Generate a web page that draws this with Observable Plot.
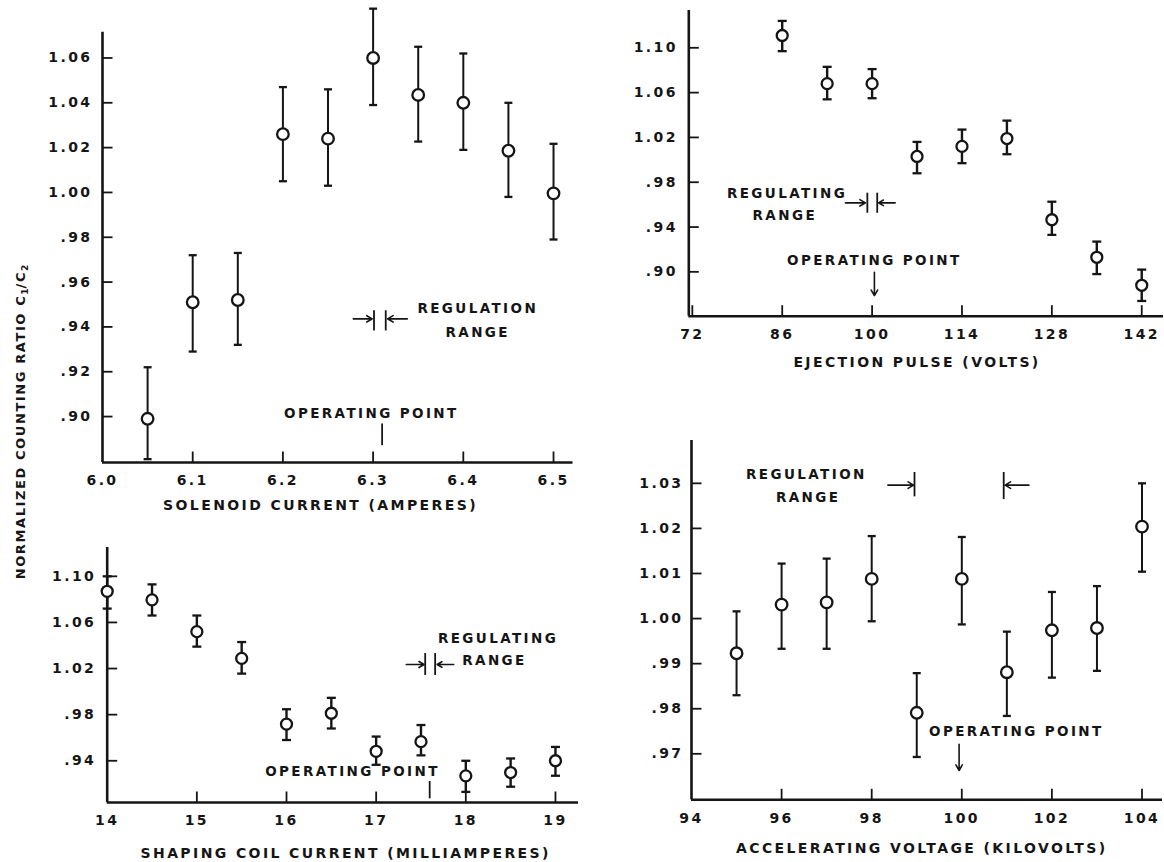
<!DOCTYPE html>
<html>
<head>
<meta charset="utf-8">
<script src="https://cdn.jsdelivr.net/npm/d3@7"></script>
<script src="https://cdn.jsdelivr.net/npm/@observablehq/plot@0.6"></script>
<style>
  html, body { margin: 0; padding: 0; background: #fff; }
  #chart { position: relative; width: 1164px; height: 862px; overflow: hidden; background: #fff; }
  #chart svg { position: absolute; left: 0; top: 0; }
  #ytitle {
    position: absolute; left: 21px; top: 422px;
    transform: translate(-50%, -50%) rotate(-90deg);
    white-space: nowrap; font: bold 13px "DejaVu Sans", sans-serif;
    letter-spacing: 1.6px; color: #151515;
  }
  #ytitle sub { font-size: 9px; vertical-align: -3px; letter-spacing: 0; }
</style>
</head>
<body>
<div id="chart">
  <div id="ytitle">NORMALIZED COUNTING RATIO C<sub>1</sub>/C<sub>2</sub></div>
</div>
<script>
// ---------------- DATA ----------------
// Panel A: solenoid current
const solenoidCurrent = [6.05, 6.10, 6.15, 6.20, 6.25, 6.30, 6.35, 6.40, 6.45, 6.50];
const solenoidRatio   = [0.899, 0.951, 0.952, 1.026, 1.024, 1.060, 1.0435, 1.040, 1.0186, 0.9996];
const solenoidLow     = [0.881, 0.929, 0.932, 1.005, 1.003, 1.039, 1.0227, 1.019, 0.998, 0.979];
const solenoidHigh    = [0.922, 0.972, 0.973, 1.047, 1.046, 1.082, 1.065, 1.062, 1.040, 1.0217];
const solenoidXTicks = [6.0, 6.1, 6.2, 6.3, 6.4, 6.5];
const solenoidXTickLabels = ["6.0", "6.1", "6.2", "6.3", "6.4", "6.5"];
const solenoidYTicks = [0.90, 0.92, 0.94, 0.96, 0.98, 1.00, 1.02, 1.04, 1.06];
const solenoidYTickLabels = [".90", ".92", ".94", ".96", ".98", "1.00", "1.02", "1.04", "1.06"];
const solenoidTitle = "SOLENOID CURRENT (AMPERES)";
const solenoidNotes = [
  {x: 6.416, y: 0.948, text: "REGULATION"},
  {x: 6.416, y: 0.9376, text: "RANGE"},
  {x: 6.298, y: 0.9012, text: "OPERATING POINT"}
];
const solenoidRangeLines = [{x: 6.301, y1: 0.9382, y2: 0.9472}, {x: 6.314, y1: 0.9382, y2: 0.9472}];
const solenoidRangeArrows = [{x1: 6.278, x2: 6.299, y: 0.9436}, {x1: 6.338, x2: 6.316, y: 0.9436}];
const solenoidOperatingLines = [{x: 6.310, y1: 0.8870, y2: 0.8967}];
const solenoidOperatingArrows = [];

// Panel B: ejection pulse
const ejectionPulse = [86, 93, 100, 107, 114, 121, 128, 135, 142];
const ejectionRatio = [1.111, 1.068, 1.068, 1.003, 1.012, 1.019, 0.9465, 0.913, 0.888];
const ejectionLow   = [1.097, 1.054, 1.055, 0.988, 0.997, 1.005, 0.933, 0.898, 0.874];
const ejectionHigh  = [1.124, 1.083, 1.081, 1.016, 1.027, 1.035, 0.9626, 0.927, 0.902];
const ejectionXTicks = [72, 86, 100, 114, 128, 142];
const ejectionXTickLabels = ["72", "86", "100", "114", "128", "142"];
const ejectionYTicks = [0.90, 0.94, 0.98, 1.02, 1.06, 1.10];
const ejectionYTickLabels = [".90", ".94", ".98", "1.02", "1.06", "1.10"];
const ejectionTitle = "EJECTION PULSE (VOLTS)";
const ejectionNotes = [
  {x: 86.75, y: 0.9696, text: "REGULATING"},
  {x: 86.4, y: 0.9503, text: "RANGE"},
  {x: 100.35, y: 0.9101, text: "OPERATING POINT"}
];
const ejectionRangeLines = [{x: 99.26, y1: 0.9523, y2: 0.9702}, {x: 100.8, y1: 0.9523, y2: 0.9702}];
const ejectionRangeArrows = [{x1: 95.85, x2: 98.96, y: 0.9616}, {x1: 103.6, x2: 101.0, y: 0.9616}];
const ejectionOperatingLines = [];
const ejectionOperatingArrows = [{x: 100.36, y1: 0.8997, y2: 0.8788}];

// Panel C: shaping coil current
const shapingCurrent = [14, 14.5, 15, 15.5, 16, 16.5, 17, 17.5, 18, 18.5, 19];
const shapingRatio   = [1.087, 1.0796, 1.052, 1.0288, 0.9718, 0.9812, 0.9482, 0.9566, 0.9269, 0.9298, 0.940];
const shapingLow     = [1.072, 1.066, 1.039, 1.0156, 0.958, 0.968, 0.9365, 0.9447, 0.913, 0.9175, 0.927];
const shapingHigh    = [1.100, 1.093, 1.066, 1.043, 0.9847, 0.9946, 0.961, 0.971, 0.940, 0.942, 0.952];
const shapingXTicks = [14, 15, 16, 17, 18, 19];
const shapingXTickLabels = ["14", "15", "16", "17", "18", "19"];
const shapingYTicks = [0.94, 0.98, 1.02, 1.06, 1.10];
const shapingYTickLabels = [".94", ".98", "1.02", "1.06", "1.10"];
const shapingTitle = "SHAPING COIL CURRENT (MILLIAMPERES)";
const shapingNotes = [
  {x: 18.36, y: 1.0457, text: "REGULATING"},
  {x: 18.32, y: 1.027, text: "RANGE"},
  {x: 16.736, y: 0.9307, text: "OPERATING POINT"}
];
const shapingRangeLines = [{x: 17.547, y1: 1.014, y2: 1.033}, {x: 17.658, y1: 1.014, y2: 1.033}];
const shapingRangeArrows = [{x1: 17.336, x2: 17.535, y: 1.0235}, {x1: 17.865, x2: 17.68, y: 1.0235}];
const shapingOperatingLines = [{x: 17.597, y1: 0.907, y2: 0.922}];
const shapingOperatingArrows = [];

// Panel D: accelerating voltage
const acceleratingVoltage = [95, 96, 97, 98, 99, 100, 101, 102, 103, 104];
const acceleratingRatio = [0.9923, 1.0031, 1.0036, 1.0088, 0.9791, 1.0088, 0.9881, 0.9974, 0.9979, 1.0204];
const acceleratingLow   = [0.983, 0.9933, 0.9933, 0.9994, 0.9693, 0.9987, 0.9784, 0.9869, 0.9884, 1.0104];
const acceleratingHigh  = [1.0016, 1.0122, 1.0133, 1.0183, 0.9879, 1.0181, 0.9971, 1.0059, 1.0072, 1.030];
const acceleratingXTicks = [94, 96, 98, 100, 102, 104];
const acceleratingXTickLabels = ["94", "96", "98", "100", "102", "104"];
const acceleratingYTicks = [0.97, 0.98, 0.99, 1.00, 1.01, 1.02, 1.03];
const acceleratingYTickLabels = [".97", ".98", ".99", "1.00", "1.01", "1.02", "1.03"];
const acceleratingTitle = "ACCELERATING VOLTAGE (KILOVOLTS)";
const acceleratingNotes = [
  {x: 96.55, y: 1.032, text: "REGULATION"},
  {x: 96.59, y: 1.0268, text: "RANGE"},
  {x: 101.21, y: 0.975, text: "OPERATING POINT"}
];
const acceleratingRangeLines = [{x: 98.95, y1: 1.027, y2: 1.0324}, {x: 100.93, y1: 1.0264, y2: 1.0324}];
const acceleratingRangeArrows = [{x1: 98.36, x2: 98.93, y: 1.0296}, {x1: 101.49, x2: 100.96, y: 1.0296}];
const acceleratingOperatingLines = [];
const acceleratingOperatingArrows = [{x: 99.94, y1: 0.9721, y2: 0.9663}];

// ---------------- LAYOUT / STYLE ----------------
const W = 1164, H = 862;
const INK = "#151515";
const FONT = "'DejaVu Sans', sans-serif";

const panels = [
  {
    frame: {left: 102, right: 572.5, top: 31.7, bottom: 462},
    xDomain: [6.0, 6.5216], yDomain: [0.8795, 1.0715],
    x: solenoidCurrent, y: solenoidRatio, lo: solenoidLow, hi: solenoidHigh,
    xTicks: solenoidXTicks, xTickLabels: solenoidXTickLabels,
    yTicks: solenoidYTicks, yTickLabels: solenoidYTickLabels,
    title: solenoidTitle, titleX: 6.2417, titleDy: 43,
    notes: solenoidNotes, rangeLines: solenoidRangeLines, rangeArrows: solenoidRangeArrows,
    opLines: solenoidOperatingLines, opArrows: solenoidOperatingArrows,
    yLabelDx: -10, r: 5.8, cap: 4, barWidth: 2
  },
  {
    frame: {left: 688.3, right: 1163, top: 10, bottom: 315.7},
    xDomain: [71.45, 145.39], yDomain: [0.8604, 1.1333],
    x: ejectionPulse, y: ejectionRatio, lo: ejectionLow, hi: ejectionHigh,
    xTicks: ejectionXTicks, xTickLabels: ejectionXTickLabels,
    yTicks: ejectionYTicks, yTickLabels: ejectionYTickLabels,
    title: ejectionTitle, titleX: 107.0, titleDy: 46,
    notes: ejectionNotes, rangeLines: ejectionRangeLines, rangeArrows: ejectionRangeArrows,
    opLines: ejectionOperatingLines, opArrows: ejectionOperatingArrows,
    yLabelDx: -11, r: 5.5, cap: 4.5, barWidth: 2.4
  },
  {
    frame: {left: 106.7, right: 578, top: 547, bottom: 802},
    xDomain: [14, 19.257], yDomain: [0.9038, 1.125],
    x: shapingCurrent, y: shapingRatio, lo: shapingLow, hi: shapingHigh,
    xTicks: shapingXTicks, xTickLabels: shapingXTickLabels,
    yTicks: shapingYTicks, yTickLabels: shapingYTickLabels,
    title: shapingTitle, titleX: 16.66, titleDy: 51.5,
    notes: shapingNotes, rangeLines: shapingRangeLines, rangeArrows: shapingRangeArrows,
    opLines: shapingOperatingLines, opArrows: shapingOperatingArrows,
    yLabelDx: -11, r: 5.5, cap: 4.5, barWidth: 2.4
  },
  {
    frame: {left: 691, right: 1162, top: 440, bottom: 799.3},
    xDomain: [94, 104.455], yDomain: [0.9598, 1.0395],
    x: acceleratingVoltage, y: acceleratingRatio, lo: acceleratingLow, hi: acceleratingHigh,
    xTicks: acceleratingXTicks, xTickLabels: acceleratingXTickLabels,
    yTicks: acceleratingYTicks, yTickLabels: acceleratingYTickLabels,
    title: acceleratingTitle, titleX: 99.11, titleDy: 48.7,
    notes: acceleratingNotes, rangeLines: acceleratingRangeLines, rangeArrows: acceleratingRangeArrows,
    opLines: acceleratingOperatingLines, opArrows: acceleratingOperatingArrows,
    yLabelDx: -8, r: 5.8, cap: 4, barWidth: 2
  }
];

// custom symbols (pixel-length tick marks and error-bar caps)
const tickUp = {draw(ctx) { ctx.moveTo(0, 0); ctx.lineTo(0, -11); }};
const tickRight = {draw(ctx) { ctx.moveTo(0, 0); ctx.lineTo(10, 0); }};
const capSymbol = (h) => ({draw(ctx) { ctx.moveTo(-h, 0); ctx.lineTo(h, 0); }});

function makePanel(p) {
  const pts = p.x.map((x, i) => ({x, y: p.y[i], lo: p.lo[i], hi: p.hi[i]}));
  const [x0, x1] = p.xDomain, [y0, y1] = p.yDomain;
  const textOpts = {fontFamily: FONT, fontWeight: "bold", fill: INK};
  return Plot.plot({
    width: W, height: H,
    marginLeft: p.frame.left, marginRight: W - p.frame.right,
    marginTop: p.frame.top, marginBottom: H - p.frame.bottom,
    x: {domain: p.xDomain, axis: null},
    y: {domain: p.yDomain, axis: null},
    style: {background: "transparent", overflow: "visible", letterSpacing: "2.4px", position: "absolute", left: "0px", top: "0px"},
    marks: [
      // axes
      Plot.ruleX([x0], {y1: y0, y2: y1, stroke: INK, strokeWidth: 2.6}),
      Plot.ruleY([y0], {x1: x0, x2: x1, stroke: INK, strokeWidth: 2.6}),
      Plot.dot(p.xTicks.filter(v => v !== x0), {x: d => d, y: y0, symbol: tickUp, fill: "none", stroke: INK, strokeWidth: 1.8}),
      Plot.dot(p.yTicks, {x: x0, y: d => d, symbol: tickRight, fill: "none", stroke: INK, strokeWidth: 1.8}),
      Plot.text(p.xTickLabels, {x: (d, i) => p.xTicks[i], y: y0, dy: 18.5, text: d => d, fontSize: 14, ...textOpts}),
      Plot.text(p.yTickLabels, {x: x0, y: (d, i) => p.yTicks[i], dx: p.yLabelDx, text: d => d, textAnchor: "end", fontSize: 14, ...textOpts}),
      Plot.text([p.title], {x: p.titleX, y: y0, dy: p.titleDy, text: d => d, fontSize: 14, ...textOpts}),
      // annotations
      Plot.text(p.notes, {x: "x", y: "y", text: "text", fontSize: 13.5, ...textOpts}),
      Plot.ruleX(p.rangeLines, {x: "x", y1: "y1", y2: "y2", stroke: INK, strokeWidth: 1.8}),
      Plot.arrow(p.rangeArrows, {x1: "x1", x2: "x2", y1: "y", y2: "y", stroke: INK, strokeWidth: 1.6, headLength: 6}),
      Plot.ruleX(p.opLines, {x: "x", y1: "y1", y2: "y2", stroke: INK, strokeWidth: 1.8}),
      Plot.arrow(p.opArrows, {x1: "x", x2: "x", y1: "y1", y2: "y2", stroke: INK, strokeWidth: 1.6, headLength: 6}),
      // error bars and points
      Plot.ruleX(pts, {x: "x", y1: "lo", y2: "hi", stroke: INK, strokeWidth: p.barWidth}),
      Plot.dot(pts, {x: "x", y: "hi", symbol: capSymbol(p.cap), fill: "none", stroke: INK, strokeWidth: 2.3}),
      Plot.dot(pts, {x: "x", y: "lo", symbol: capSymbol(p.cap), fill: "none", stroke: INK, strokeWidth: 2.3}),
      Plot.dot(pts, {x: "x", y: "y", r: p.r, fill: "white", stroke: INK, strokeWidth: 2.3})
    ]
  });
}

const chart = document.getElementById("chart");
for (const p of panels) chart.appendChild(makePanel(p));
</script>
</body>
</html>
